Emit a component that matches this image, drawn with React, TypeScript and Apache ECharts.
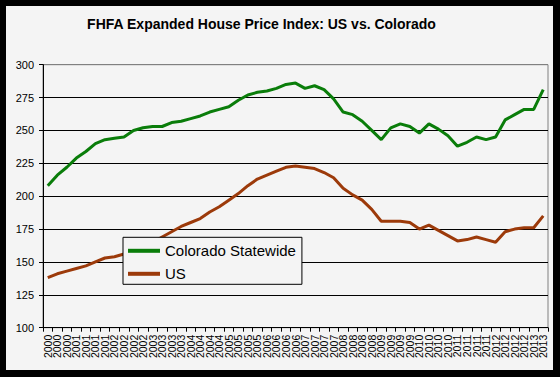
import React, { useEffect, useRef } from "react";
import * as echarts from "echarts";

const quarterLabels = [
  "2000", "2000", "2000",
  "2001", "2001", "2001", "2001",
  "2002", "2002", "2002", "2002",
  "2003", "2003", "2003", "2003",
  "2004", "2004", "2004", "2004",
  "2005", "2005", "2005", "2005",
  "2006", "2006", "2006", "2006",
  "2007", "2007", "2007", "2007",
  "2008", "2008", "2008", "2008",
  "2009", "2009", "2009", "2009",
  "2010", "2010", "2010", "2010",
  "2011", "2011", "2011", "2011",
  "2012", "2012", "2012", "2012",
  "2013", "2013",
];

const coloradoValues = [
  208, 216, 222, 229, 234, 240, 243, 244, 245, 250,
  252, 253, 253, 256, 257, 259, 261, 264, 266, 268,
  273, 277, 279, 280, 282, 285, 286, 282, 284, 281,
  274, 264, 262, 257, 250, 243, 252, 255, 253, 248,
  255, 251, 246, 238, 241, 245, 243, 245, 258, 262,
  266, 266, 281,
];

const usValues = [
  138, 141, 143, 145, 147, 150, 153, 154, 156, 158,
  161, 165, 169, 173, 177, 180, 183, 188, 192, 197,
  202, 208, 213, 216, 219, 222, 223, 222, 221, 218,
  214, 206, 201, 197, 190, 181, 181, 181, 180, 175,
  178, 174, 170, 166, 167, 169, 167, 165, 173, 175,
  176, 176, 185,
];

const yTicks = { min: 100, max: 300, interval: 25 };

const FONT = "Arial, 'Liberation Sans', sans-serif";

export default function App() {
  const ref = useRef<HTMLDivElement>(null);

  useEffect(() => {
    if (!ref.current) return;
    const chart = echarts.init(ref.current, undefined, { renderer: "svg" });
    chart.setOption({
      animation: false,
      backgroundColor: "#f4f4f4",
      textStyle: { fontFamily: FONT },
      graphic: [
        {
          type: "text",
          x: 255.5,
          y: 18,
          style: {
            text: "FHFA Expanded House Price Index: US vs. Colorado",
            fontSize: 14,
            fontWeight: "bold",
            fontFamily: FONT,
            fill: "#000",
            textAlign: "center",
            textVerticalAlign: "middle",
          },
        },
      ],
      grid: {
        left: 37,
        top: 58.7,
        width: 505,
        height: 263,
        show: true,
        borderColor: "#808080",
        borderWidth: 1,
        backgroundColor: "transparent",
      },
      legend: {
        orient: "vertical",
        left: 117,
        top: 231.3,
        backgroundColor: "#f4f4f4",
        borderColor: "#000",
        borderWidth: 1,
        borderRadius: 0,
        padding: [6, 6, 3, 5],
        itemGap: 8,
        itemWidth: 32,
        itemHeight: 4,
        icon: "rect",
        textStyle: { fontSize: 15, color: "#000", fontFamily: FONT },
        data: ["Colorado Statewide", "US"],
      },
      xAxis: {
        type: "category",
        data: quarterLabels,
        boundaryGap: true,
        axisLine: { show: true, lineStyle: { color: "#000", width: 1 } },
        axisTick: { show: true, interval: 0, length: 4, lineStyle: { color: "#000" } },
        axisLabel: {
          interval: 0,
          rotate: 90,
          fontSize: 10.5,
          color: "#000",
          margin: 7,
          fontFamily: FONT,
        },
        splitLine: { show: false },
      },
      yAxis: {
        type: "value",
        min: yTicks.min,
        max: yTicks.max,
        interval: yTicks.interval,
        axisLine: { show: true, lineStyle: { color: "#000", width: 1 } },
        axisTick: { show: true, length: 4, lineStyle: { color: "#000" } },
        axisLabel: { fontSize: 11, color: "#000", margin: 9, fontFamily: FONT },
        splitLine: {
          show: true,
          lineStyle: {
            color: ["#000", "#000", "#000", "#000", "#000", "#000", "#000", "#000", "#808080"],
            width: 1,
          },
        },
      },
      series: [
        {
          name: "Colorado Statewide",
          type: "line",
          data: coloradoValues,
          symbol: "none",
          lineStyle: { color: "#0a7d0a", width: 3 },
          itemStyle: { color: "#0a7d0a" },
          z: 3,
        },
        {
          name: "US",
          type: "line",
          data: usValues,
          symbol: "none",
          lineStyle: { color: "#9c3a0a", width: 3 },
          itemStyle: { color: "#9c3a0a" },
          z: 2,
        },
      ],
    });
    return () => chart.dispose();
  }, []);

  return (
    <div
      style={{
        position: "fixed",
        left: 0,
        top: 0,
        width: 560,
        height: 377,
        background: "#000",
      }}
    >
      <div
        ref={ref}
        style={{ position: "absolute", left: 6, top: 6, width: 547, height: 364 }}
      />
    </div>
  );
}
